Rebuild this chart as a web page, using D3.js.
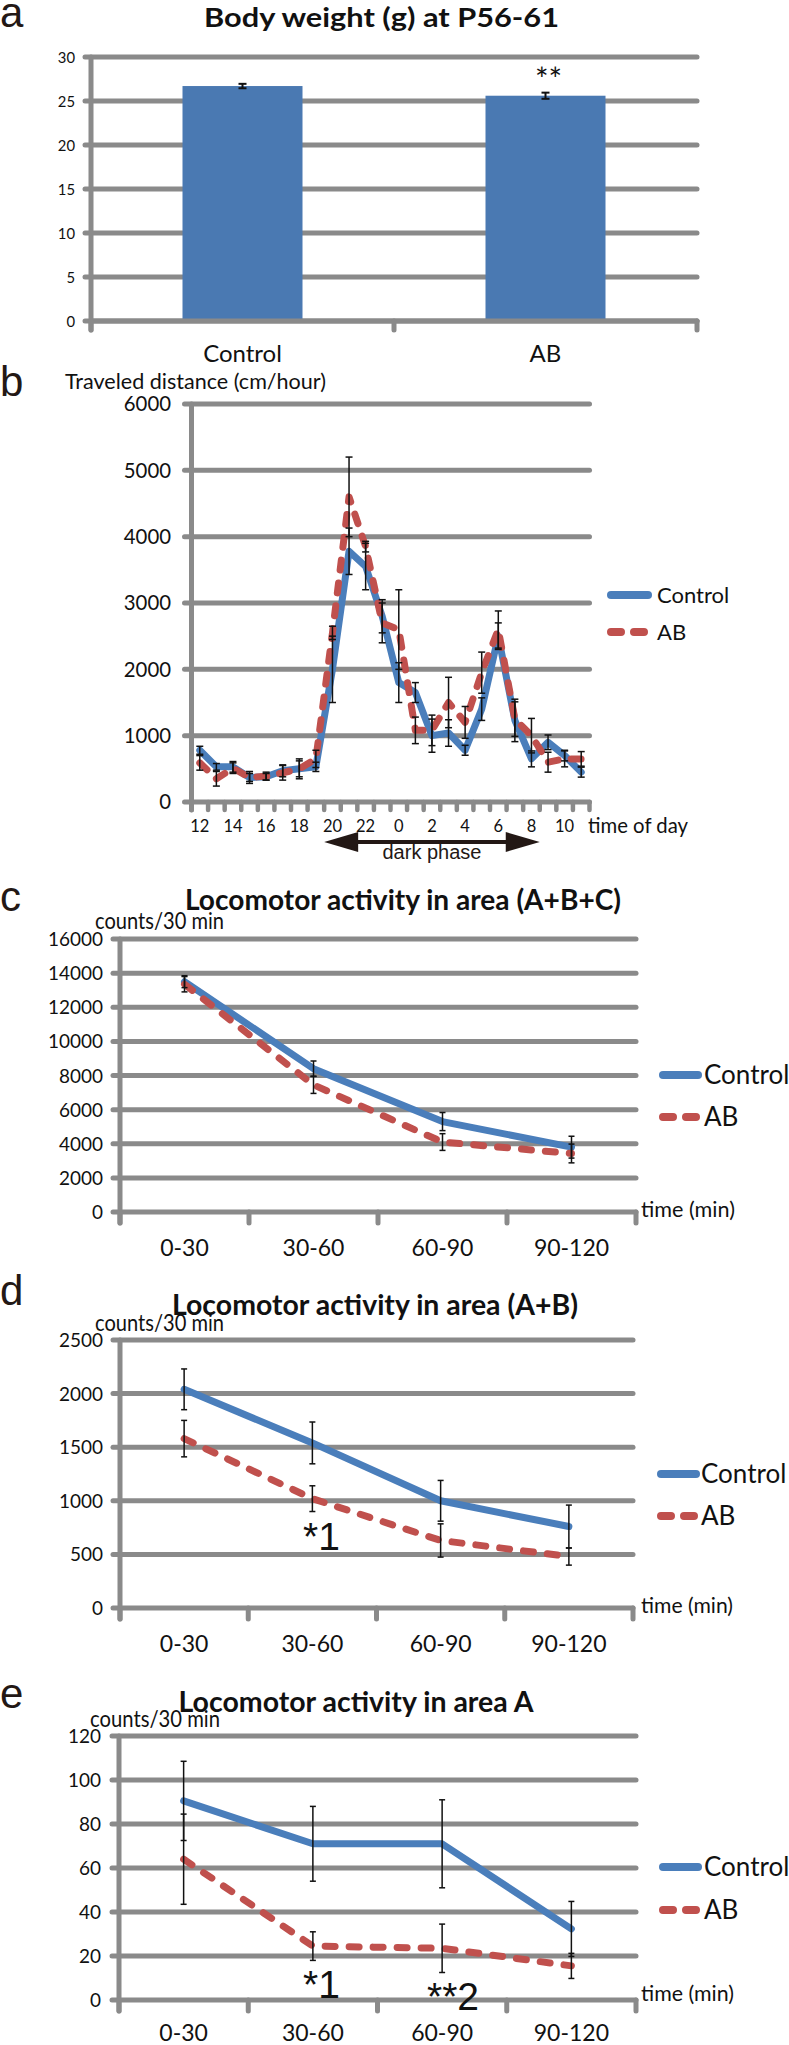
<!DOCTYPE html>
<html><head><meta charset="utf-8">
<script src="https://cdn.jsdelivr.net/npm/d3@7"></script>
<style>body{margin:0;background:#fff;}svg{display:block;}</style>
</head><body>
<svg id="chart" width="789" height="2045"></svg>
<script>
// ---------- DATA ----------
const weightGroups = ["Control", "AB"];
const weightMeans = [26.7, 25.6];
const weightErrs = [0.25, 0.35];
const weightTicks = [0, 5, 10, 15, 20, 25, 30];

const hours = [12,13,14,15,16,17,18,19,20,21,22,23,0,1,2,3,4,5,6,7,8,9,10,11];
const distControl = [780,530,530,370,380,470,500,530,2000,3780,3550,2800,1800,1650,1000,1040,780,1400,2500,1230,650,900,700,450];
const distControlErr = [60,50,80,60,50,90,150,70,500,350,350,250,300,150,250,200,75,170,200,320,120,110,80,75];
const distAB = [590,350,510,370,390,440,500,650,2550,4600,3850,2700,2600,1080,1080,1500,1200,1950,2600,1250,1000,600,650,650];
const distABErr = [110,110,80,90,60,110,120,130,100,600,80,300,600,200,230,380,240,310,280,260,260,150,120,110];
const distTicks = [0,1000,2000,3000,4000,5000,6000];

const periods = ["0-30", "30-60", "60-90", "90-120"];
const abcControl = [13500, 8400, 5300, 3800];
const abcControlErr = [350, 450, 530, 640];
const abcAB = [13350, 7450, 4100, 3430];
const abcABErr = [450, 500, 490, 550];
const abcTicks = [0,2000,4000,6000,8000,10000,12000,14000,16000];

const abControl = [2040, 1540, 1000, 760];
const abControlErr = [190, 195, 190, 200];
const abAB = [1580, 1020, 630, 480];
const abABErr = [170, 120, 155, 80];
const abTicks = [0,500,1000,1500,2000,2500];

const aControl = [90.5, 71, 71, 32.3];
const aControlErr = [18, 17, 20, 12.5];
const aAB = [64, 24.5, 23.5, 15.5];
const aABErr = [20.5, 6.5, 11, 5.7];
const aTicks = [0,20,40,60,80,100,120];

const seriesNames = ["Control", "AB"];

// ---------- STYLE ----------
const GRID = "#8a8a8a";
const BLUE = "#4a7ebb";
const RED = "#c0504d";
const BAR = "#4a79b2";
const FONT = "Lato, Carlito, 'Open Sans', sans-serif";
const HELV = "'Liberation Sans', Arial, sans-serif";
const svg = d3.select("#chart");

function txt(g, x, y, s, size, opts = {}) {
  const t = g.append("text").attr("x", x).attr("y", y).text(s)
    .attr("font-family", opts.family || FONT)
    .attr("font-size", size)
    .attr("font-weight", opts.weight || "normal")
    .attr("text-anchor", opts.anchor || "start")
    .attr("fill", opts.fill || "#111");
  if (opts.width) t.attr("textLength", opts.width).attr("lengthAdjust", "spacingAndGlyphs");
  return t;
}

// ---------- PANEL A ----------
(function () {
  const g = svg.append("g");
  const x0 = 91, x1 = 697, yTop = 57, yBot = 321;
  const x = d3.scaleBand().domain(weightGroups).range([x0, x1]).padding(0);
  const y = d3.scaleLinear().domain([0, 30]).range([yBot, yTop]);
  const barW = 120;
  g.selectAll(".grid").data(weightTicks).join("line")
    .attr("x1", x0 - 6).attr("x2", x1).attr("y1", d => y(d)).attr("y2", d => y(d))
    .attr("stroke", GRID).attr("stroke-width", 5).attr("stroke-linecap", "round");
  g.selectAll(".bar").data(weightMeans).join("rect")
    .attr("x", (d, i) => x(weightGroups[i]) + x.bandwidth() / 2 - barW / 2)
    .attr("width", barW)
    .attr("y", d => y(d)).attr("height", d => y(0) - y(d))
    .attr("fill", BAR);
  g.append("line").attr("x1", x0).attr("x2", x0).attr("y1", y(30)).attr("y2", yBot + 9)
    .attr("stroke", GRID).attr("stroke-width", 5).attr("stroke-linecap", "round");
  g.append("line").attr("x1", x0).attr("x2", x1).attr("y1", y(0)).attr("y2", y(0))
    .attr("stroke", GRID).attr("stroke-width", 5).attr("stroke-linecap", "round");
  const bounds = weightGroups.map(c => x(c)).concat([x.range()[1]]);
  g.selectAll(".xt").data(bounds).join("line")
    .attr("x1", d => d).attr("x2", d => d).attr("y1", yBot).attr("y2", yBot + 9)
    .attr("stroke", GRID).attr("stroke-width", 5).attr("stroke-linecap", "round");
  weightMeans.forEach((m, i) => {
    const cx = x(weightGroups[i]) + x.bandwidth() / 2;
    const e = weightErrs[i];
    g.append("line").attr("x1", cx).attr("x2", cx).attr("y1", y(m - e)).attr("y2", y(m + e)).attr("stroke", "#111").attr("stroke-width", 2);
    [m - e, m + e].forEach(v => g.append("line").attr("x1", cx - 4).attr("x2", cx + 4).attr("y1", y(v)).attr("y2", y(v)).attr("stroke", "#111").attr("stroke-width", 2));
  });
  weightTicks.forEach(t => txt(g, 75, y(t), t, 16, { anchor: "end", width: String(t).length * 8.6 }).attr("dy", "0.35em"));
  weightGroups.forEach(c => txt(g, x(c) + x.bandwidth() / 2, 362, c, 24, { anchor: "middle" }));
  txt(g, 381.5, 27, "Body weight (g) at P56-61", 27, { anchor: "middle", weight: "bold", width: 355 });
  txt(g, x("AB") + x.bandwidth() / 2 + 3, 91, "**", 32, { anchor: "middle" });
  txt(g, 0, 27, "a", 42, { family: HELV, fill: "#231815" });
})();

// ---------- LINE PANELS ----------
function linePanel(o) {
  const g = svg.append("g");
  const n = o.cats.length;
  const x = d3.scaleBand().domain(d3.range(n)).range([o.x0, o.x1]).padding(0);
  const cx = i => x(i) + x.bandwidth() / 2;
  const y = d3.scaleLinear().domain([0, d3.max(o.ticks)]).range([o.yBot, o.yTop]);
  g.selectAll(".grid").data(o.ticks).join("line")
    .attr("x1", o.x0 - 7).attr("x2", o.x1).attr("y1", d => y(d)).attr("y2", d => y(d))
    .attr("stroke", GRID).attr("stroke-width", 5).attr("stroke-linecap", "round");
  g.append("line").attr("x1", o.x0).attr("x2", o.x0).attr("y1", y(d3.max(o.ticks))).attr("y2", o.yBot + o.tickLen)
    .attr("stroke", GRID).attr("stroke-width", 5).attr("stroke-linecap", "round");
  const bounds = d3.range(n).map(i => x(i)).concat([x.range()[1]]);
  g.selectAll(".xt").data(bounds).join("line")
    .attr("x1", d => d).attr("x2", d => d).attr("y1", o.yBot).attr("y2", o.yBot + o.tickLen)
    .attr("stroke", GRID).attr("stroke-width", o.tickW || 5).attr("stroke-linecap", "round");
  o.ticks.forEach(t => txt(g, o.tickLabelX, y(t), t, o.tickFont, { anchor: "end", width: String(t).length * o.digitW }).attr("dy", "0.35em"));
  o.cats.forEach((c, i) => {
    if (o.labelEvery && i % o.labelEvery !== 0) return;
    txt(g, cx(i), o.xLabelY, c, o.xLabelFont, { anchor: "middle" });
  });
  const line = d3.line().x((d, i) => cx(i)).y(d => y(d));
  g.append("path").datum(o.control).attr("d", line).attr("fill", "none")
    .attr("stroke", BLUE).attr("stroke-width", o.lineW).attr("stroke-linejoin", "round").attr("stroke-linecap", "round");
  g.append("path").datum(o.ab).attr("d", line).attr("fill", "none")
    .attr("stroke", RED).attr("stroke-width", o.lineW).attr("stroke-linejoin", "round").attr("stroke-linecap", "round")
    .attr("stroke-dasharray", o.dash);
  [[o.control, o.controlErr], [o.ab, o.abErr]].forEach(([vals, errs]) => {
    vals.forEach((v, i) => {
      const e = errs[i], px = cx(i);
      g.append("line").attr("x1", px).attr("x2", px).attr("y1", y(v - e)).attr("y2", y(v + e)).attr("stroke", "#111").attr("stroke-width", 1.5);
      [v - e, v + e].forEach(w => g.append("line").attr("x1", px - o.capW / 2).attr("x2", px + o.capW / 2).attr("y1", y(w)).attr("y2", y(w)).attr("stroke", "#111").attr("stroke-width", 1.5));
    });
  });
  const L = o.legend;
  g.append("line").attr("x1", L.x0 + 4).attr("x2", L.x1 - 4).attr("y1", L.y1).attr("y2", L.y1)
    .attr("stroke", BLUE).attr("stroke-width", 8).attr("stroke-linecap", "round");
  g.append("line").attr("x1", L.x0 + 4).attr("x2", L.x1 - 4).attr("y1", L.y2).attr("y2", L.y2)
    .attr("stroke", RED).attr("stroke-width", 8).attr("stroke-linecap", "round").attr("stroke-dasharray", L.dash || "10,13");
  txt(g, L.textX, L.y1, seriesNames[0], L.font).attr("dy", "0.36em");
  txt(g, L.textX, L.y2, seriesNames[1], L.font).attr("dy", "0.36em");
  txt(g, o.axisTitle[0], o.axisTitle[1], o.axisTitle[2], o.axisTitle[3], { width: o.axisTitle[4] });
  return { g, x, y, cx };
}

// Panel b
(function () {
  const p = linePanel({
    cats: hours, control: distControl, controlErr: distControlErr, ab: distAB, abErr: distABErr,
    ticks: distTicks, x0: 191.5, x1: 589.5, yTop: 404, yBot: 802,
    tickLabelX: 171, tickFont: 20.5, digitW: 11.8, xLabelY: 832, xLabelFont: 16.5, labelEvery: 2,
    tickLen: 8, tickW: 4.5, capW: 7, lineW: 7, dash: "10,13",
    legend: { x0: 607, x1: 652, y1: 595, y2: 632, textX: 657, font: 22 },
    axisTitle: [588, 833, "time of day", 21, 100]
  });
  const g = p.g;
  txt(g, 65, 389, "Traveled distance (cm/hour)", 21, { width: 261 });
  txt(g, 0, 396, "b", 42, { family: HELV, fill: "#231815" });
  const L = p.x(hours.indexOf(20)), R = p.x(hours.indexOf(8)) + p.x.bandwidth();
  const yc = 842, hl = 34, hh = 10, sh = 1.9;
  const pts = [[L, yc], [L + hl, yc - hh], [L + hl, yc - sh], [R - hl, yc - sh], [R - hl, yc - hh], [R, yc],
    [R - hl, yc + hh], [R - hl, yc + sh], [L + hl, yc + sh], [L + hl, yc + hh]];
  g.append("polygon").attr("points", pts.map(q => q.join(",")).join(" ")).attr("fill", "#231815");
  txt(g, (L + R) / 2, 859, "dark phase", 20, { family: HELV, anchor: "middle", fill: "#231815" });
})();

// Panel c
(function () {
  const p = linePanel({
    cats: periods, control: abcControl, controlErr: abcControlErr, ab: abcAB, abErr: abcABErr,
    ticks: abcTicks, x0: 120, x1: 636, yTop: 939, yBot: 1212,
    tickLabelX: 103, tickFont: 20, digitW: 11, xLabelY: 1256, xLabelFont: 23,
    tickLen: 11, capW: 6, lineW: 7, dash: "10,14",
    legend: { x0: 659, x1: 702, y1: 1075, y2: 1117, textX: 704, font: 26 },
    axisTitle: [641, 1217, "time (min)", 21, 94]
  });
  txt(p.g, 403, 910, "Locomotor activity in area (A+B+C)", 28, { anchor: "middle", weight: "bold", width: 436 });
  txt(p.g, 95, 929, "counts/30 min", 22.5, { width: 129 });
  txt(p.g, 0, 911, "c", 42, { family: HELV, fill: "#231815" });
})();

// Panel d
(function () {
  const p = linePanel({
    cats: periods, control: abControl, controlErr: abControlErr, ab: abAB, abErr: abABErr,
    ticks: abTicks, x0: 120, x1: 633, yTop: 1340, yBot: 1608,
    tickLabelX: 103, tickFont: 20, digitW: 11, xLabelY: 1652, xLabelFont: 23,
    tickLen: 11, capW: 6, lineW: 7, dash: "10,14",
    legend: { x0: 657, x1: 700, y1: 1474, y2: 1516, textX: 701, font: 26 },
    axisTitle: [641, 1613, "time (min)", 21, 92]
  });
  txt(p.g, 375, 1315, "Locomotor activity in area (A+B)", 28, { anchor: "middle", weight: "bold", width: 406 });
  txt(p.g, 95, 1331, "counts/30 min", 22.5, { width: 129 });
  txt(p.g, 0, 1305, "d", 42, { family: HELV, fill: "#231815" });
  txt(p.g, 303, 1550, "*1", 39, { family: HELV });
})();

// Panel e
(function () {
  const p = linePanel({
    cats: periods, control: aControl, controlErr: aControlErr, ab: aAB, abErr: aABErr,
    ticks: aTicks, x0: 119, x1: 636, yTop: 1736, yBot: 2000,
    tickLabelX: 101, tickFont: 20, digitW: 11, xLabelY: 2041, xLabelFont: 23,
    tickLen: 11, capW: 6, lineW: 7, dash: "10,14",
    legend: { x0: 659, x1: 702, y1: 1867, y2: 1910, textX: 704, font: 26 },
    axisTitle: [641, 2001, "time (min)", 21, 93]
  });
  txt(p.g, 356, 1712, "Locomotor activity in area A", 28, { anchor: "middle", weight: "bold", width: 355 });
  txt(p.g, 90, 1727, "counts/30 min", 22.5, { width: 130 });
  txt(p.g, 0, 1708, "e", 42, { family: HELV, fill: "#231815" });
  txt(p.g, 303, 1998, "*1", 39, { family: HELV });
  txt(p.g, 427, 2010, "**2", 39, { family: HELV });
})();
</script>
</body></html>
